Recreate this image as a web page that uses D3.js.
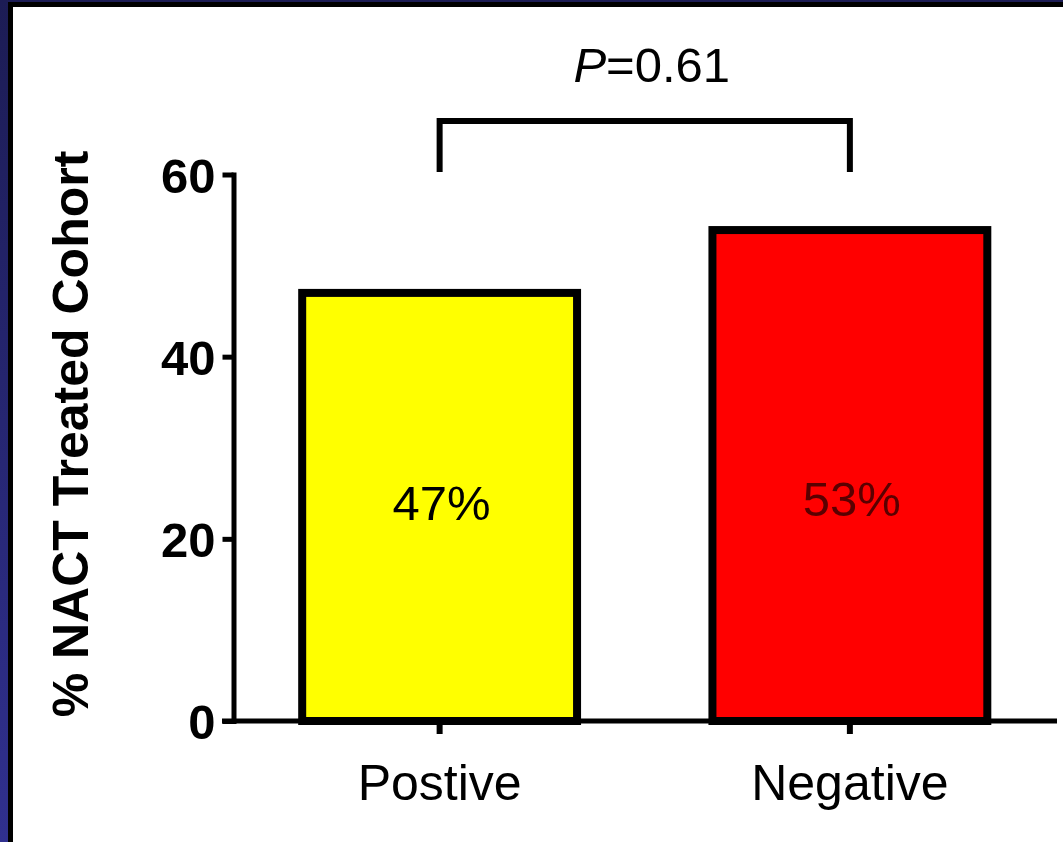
<!DOCTYPE html>
<html>
<head>
<meta charset="utf-8">
<script src="https://cdn.jsdelivr.net/npm/d3@7"></script>
<style>
  html, body { margin: 0; padding: 0; background: #fff; }
  svg { display: block; }
  text { font-family: "Liberation Sans", Arial, sans-serif; }
</style>
</head>
<body>
<svg id="chart" width="1063" height="842"></svg>
<script>
// ---- data ----
const categories = ["Postive", "Negative"];
const values = [47, 53.9];
const valueLabels = ["47%", "53%"];
const barColors = ["#ffff00", "#ff0000"];
const labelColors = ["#000000", "#5a0000"];
const yTicks = [0, 20, 40, 60];
const yTitle = "% NACT Treated Cohort";
const pText = "=0.61";

const W = 1063, H = 842;
const svg = d3.select("#chart");

// frame
const defs = svg.append("defs");
const grad = defs.append("linearGradient").attr("id", "bg").attr("x1", 0).attr("y1", 0).attr("x2", 0).attr("y2", 1);
grad.append("stop").attr("offset", "0%").attr("stop-color", "#1c1c55");
grad.append("stop").attr("offset", "100%").attr("stop-color", "#30308f");
svg.append("rect").attr("x", 0).attr("y", 0).attr("width", W).attr("height", H).attr("fill", "url(#bg)");
svg.append("rect").attr("x", 8).attr("y", 2).attr("width", W - 8).attr("height", H - 2).attr("fill", "#000");
svg.append("rect").attr("x", 13).attr("y", 7).attr("width", W - 13).attr("height", H - 7).attr("fill", "#fff");

// scales
const y = d3.scaleLinear().domain([0, 60]).range([721, 174.5]);
const x = d3.scaleBand().domain(categories).range([234.5, 1055]).paddingInner(0.33).paddingOuter(0.165);

const g = svg.append("g");

// bars
g.selectAll("rect.bar").data(categories).join("rect")
  .attr("class", "bar")
  .attr("x", d => x(d))
  .attr("width", x.bandwidth())
  .attr("y", (d, i) => y(values[i]))
  .attr("height", (d, i) => y(0) - y(values[i]))
  .attr("fill", (d, i) => barColors[i])
  .attr("stroke", "#000")
  .attr("stroke-width", 8);

// value labels
g.selectAll("text.val").data(categories).join("text")
  .attr("class", "val")
  .attr("x", d => x(d) + x.bandwidth() / 2 + 2)
  .attr("y", (d, i) => i === 0 ? 520 : 516)
  .attr("text-anchor", "middle")
  .attr("font-size", 49)
  .attr("fill", (d, i) => labelColors[i])
  .text((d, i) => valueLabels[i]);

// y axis
const yAxis = g.append("g").attr("transform", "translate(233.5,0)")
  .call(d3.axisLeft(y).tickValues(yTicks).tickSize(11).tickPadding(7).tickSizeOuter(0));
yAxis.select(".domain").attr("stroke", "#000").attr("stroke-width", 5).attr("stroke-linecap", "square");
yAxis.selectAll(".tick line").attr("stroke", "#000").attr("stroke-width", 5);
yAxis.selectAll(".tick text").attr("font-size", 49).attr("font-weight", "bold").attr("fill", "#000")
  .attr("font-family", "Liberation Sans, Arial, sans-serif").attr("dy", "0.36em");

// x axis
const xAxis = g.append("g").attr("transform", "translate(0,721)")
  .call(d3.axisBottom(x).tickSize(13).tickPadding(30).tickSizeOuter(0));
xAxis.select(".domain").attr("d", "M222,0H1057").attr("stroke", "#000").attr("stroke-width", 5);
xAxis.selectAll(".tick line").attr("stroke", "#000").attr("stroke-width", 6);
xAxis.selectAll(".tick text").attr("font-size", 50).attr("fill", "#000")
  .attr("font-family", "Liberation Sans, Arial, sans-serif");

// y title
svg.append("text")
  .attr("transform", "translate(88,434) rotate(-90)")
  .attr("text-anchor", "middle")
  .attr("font-size", 50)
  .attr("font-weight", "bold")
  .attr("fill", "#000")
  .text(yTitle);

// significance bracket
const x1 = x(categories[0]) + x.bandwidth() / 2;
const x2 = x(categories[1]) + x.bandwidth() / 2;
svg.append("path")
  .attr("d", `M${x1},172V121H${x2}V172`)
  .attr("fill", "none").attr("stroke", "#000").attr("stroke-width", 6);
const pt = svg.append("text")
  .attr("x", (x1 + x2) / 2 + 7).attr("y", 82)
  .attr("text-anchor", "middle").attr("font-size", 49).attr("fill", "#000");
pt.append("tspan").attr("font-style", "italic").text("P");
pt.append("tspan").text(pText);
</script>
</body>
</html>
